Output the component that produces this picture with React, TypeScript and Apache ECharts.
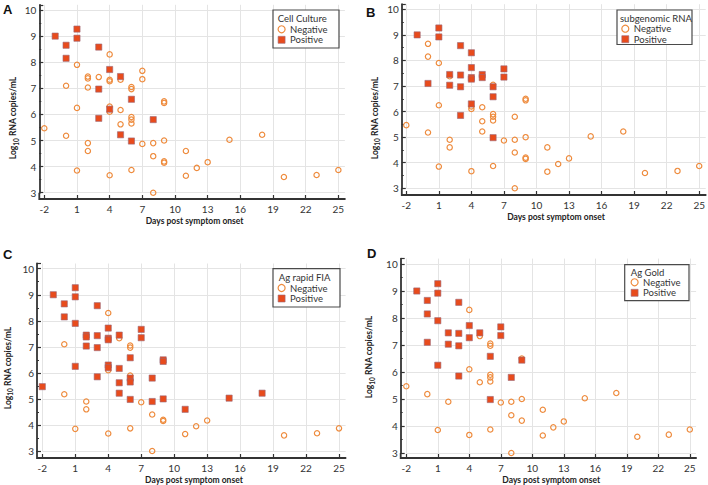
import React, { useEffect, useRef } from "react";
import * as echarts from "echarts";

// Master list of samples (days post symptom onset, log10 RNA copies/mL)
const days = [-2, -1, 0, 0, 0, 0, 1, 1, 1, 1, 1, 2, 2, 2, 2, 2, 3, 3, 3, 3, 4, 4, 4, 4, 4, 4, 4, 4, 5, 5, 5, 5, 5, 6, 6, 6, 6, 6, 6, 6, 6, 7, 7, 7, 8, 8, 8, 8, 9, 9, 9, 9, 9, 11, 11, 12, 13, 15, 18, 20, 23, 25];
const rna = [5.47, 9.0, 8.65, 8.15, 7.1, 5.18, 9.27, 8.92, 7.9, 6.25, 3.85, 7.45, 7.38, 7.03, 4.9, 4.6, 8.58, 7.43, 6.97, 5.85, 8.3, 7.72, 7.33, 7.27, 6.3, 6.2, 6.1, 3.67, 7.45, 7.33, 6.17, 5.62, 5.22, 7.05, 6.97, 6.58, 5.9, 5.8, 5.65, 4.98, 3.87, 7.67, 7.35, 4.87, 5.8, 4.9, 4.4, 3.0, 6.5, 6.44, 5.0, 4.2, 4.15, 4.6, 3.65, 3.95, 4.17, 5.03, 5.22, 3.6, 3.68, 3.87];

// 1 = Positive, 0 = Negative, null = not tested
const cellCulture = [0, 1, 1, 1, 0, 0, 1, 1, 0, 0, 0, 0, 0, 0, 0, 0, 1, 0, 1, 1, 0, 1, 0, 0, 0, 1, 0, 0, 1, 0, 0, 0, 1, 0, 0, 1, 0, 0, 0, 1, 0, 0, 0, 0, 1, 0, 0, 0, 0, 0, 0, 0, 0, 0, 0, 0, 0, 0, 0, 0, 0, 0];
const subgenomicRna = [0, 1, 0, 0, 1, 0, 1, 1, 0, 0, 0, 1, 0, 1, 0, 0, 1, 1, 1, 1, 1, 1, 1, 1, 1, 0, 0, 0, 1, 1, 0, 0, 0, 0, 1, 1, 0, 0, 0, 1, 0, 1, 1, 0, 0, 0, 0, 0, 0, 0, 0, 0, 0, 0, 0, 0, 0, 0, 0, 0, 0, 0];
const agRapidFia = [1, 1, 1, 1, 0, 0, 1, 1, 1, 1, 0, 1, 1, 1, 0, 0, 1, 1, 1, 1, 0, 1, 1, 1, 1, 1, 0, 0, 1, 0, 1, 1, 1, 0, 0, 1, 0, 1, 1, 1, 0, 1, 1, 0, 1, 1, 0, 0, 1, 1, 1, 0, 0, 1, 0, 0, 0, 1, 1, 0, 0, 0];
const agGold = [0, 1, 1, 1, 1, 0, 1, 1, 1, 1, 0, 1, null, 1, 0, null, 1, 1, 1, 1, 0, 1, null, 1, null, null, 0, 0, 1, 0, null, 0, null, 0, 0, 1, 0, 0, 0, 1, 0, 1, 1, 0, 1, 0, 0, 0, 0, 1, 0, 0, null, 0, 0, 0, 0, 0, 0, 0, 0, 0];

const panelLetters = ["A", "B", "C", "D"];
const legendTitles = ["Cell Culture", "subgenomic RNA", "Ag rapid FIA", "Ag Gold"];
const panelStatus = [cellCulture, subgenomicRna, agRapidFia, agGold];
const seriesNames = ["Negative", "Positive"];
const xTickInterval = 3;
const xMin = -2;
const xMax = 25.6;
const yMin = 3;
const yMax = 10.2;
const yAxisTitle = "Log";
const yAxisSub = "10";
const yAxisTitleRest = " RNA copies/mL";
const xAxisTitle = "Days post symptom onset";

// layout (pixels)
const grids = [
  { left: 44.3, top: 4.8, width: 300.6, height: 187.9, yOff: 5, xOff: 6.3 },
  { left: 406.3, top: 4.2, width: 300, height: 184.1, yOff: 4.5, xOff: 6.7 },
  { left: 42.3, top: 263.5, width: 303.3, height: 187.5, yOff: 5.3, xOff: 7 },
  { left: 406.3, top: 258.6, width: 289.8, height: 194.4, yOff: 5.6, xOff: 5 },
];
const legendBoxes = [
  { x: 273, y: 10, w: 66, h: 38, titleX: 277.7, titleY: 18.3, itemX: 277.5, itemY: 24.3 },
  { x: 617, y: 10, w: 75, h: 34.5, titleX: 620, titleY: 18.3, itemX: 621.2, itemY: 23.7 },
  { x: 273, y: 268.7, w: 67, h: 38.3, titleX: 278.7, titleY: 277.7, itemX: 277.5, itemY: 283 },
  { x: 624.7, y: 264.7, w: 64.3, h: 36, titleX: 630.7, titleY: 272.7, itemX: 630.5, itemY: 277.3 },
];
const yTitlePos = [
  { x: 13, y: 118 },
  { x: 374.7, y: 118 },
  { x: 7.5, y: 368 },
  { x: 369, y: 357 },
];
const letterPos = [
  { x: 3, y: 3 },
  { x: 366, y: 6 },
  { x: 3, y: 248 },
  { x: 367, y: 247 },
];

const NEG_COLOR = "#EE8B3D";
const POS_COLOR = "#E84B1C";
const POS_BORDER = "#9A6878";
const AXIS_COLOR = "#333333";
const FONT = "Lato, 'Open Sans', sans-serif";

export default function App() {
  const ref = useRef<HTMLDivElement>(null);
  useEffect(() => {
    if (!ref.current) return;
    const chart = echarts.init(ref.current, undefined, { renderer: "svg" });

    const gridOpt = grids.map((g) => ({ left: g.left, top: g.top, width: g.width, height: g.height, containLabel: false }));
    const xAxes = grids.map((g, i) => ({
      type: "value",
      gridIndex: i,
      min: xMin,
      max: xMax,
      interval: xTickInterval,
      offset: g.xOff,
      name: xAxisTitle,
      nameLocation: "middle",
      nameGap: 17,
      nameTextStyle: { fontFamily: FONT, fontWeight: "bold", fontSize: 8.5, color: "#222" },
      axisLine: { show: true, onZero: false, lineStyle: { color: AXIS_COLOR, width: 1.8 } },
      axisTick: { show: true, inside: true, length: 4, lineStyle: { color: AXIS_COLOR, width: 1.2 } },
      axisLabel: { margin: 5, fontFamily: FONT, fontSize: 10, color: "#333", showMaxLabel: false },
      splitLine: { show: true, showMaxLine: false, lineStyle: { color: "#e4e4e4", width: 1 } },
    }));
    const yAxes = grids.map((g, i) => ({
      type: "value",
      gridIndex: i,
      min: yMin,
      max: yMax,
      interval: 1,
      offset: g.yOff,
      axisLine: { show: true, onZero: false, lineStyle: { color: AXIS_COLOR, width: 1.8 } },
      axisTick: { show: true, inside: true, length: 4, lineStyle: { color: AXIS_COLOR, width: 1.2 } },
      minorTick: { show: true, splitNumber: 2, length: 2, lineStyle: { color: AXIS_COLOR, width: 1 } },
      axisLabel: { margin: 3, fontFamily: FONT, fontSize: 10, color: "#333", showMaxLabel: false },
      splitLine: { show: true, showMaxLine: false, lineStyle: { color: "#e4e4e4", width: 1 } },
    }));

    const series: any[] = [];
    panelStatus.forEach((status, p) => {
      [0, 1].forEach((flag) => {
        const data: number[][] = [];
        days.forEach((d, k) => {
          if (status[k] === flag) data.push([d, rna[k]]);
        });
        series.push({
          type: "scatter",
          name: seriesNames[flag],
          xAxisIndex: p,
          yAxisIndex: p,
          data,
          symbol: flag ? "rect" : "circle",
          symbolSize: flag ? 6.2 : 5.3,
          z: flag ? 3 : 2,
          clip: false,
          itemStyle: flag
            ? { color: POS_COLOR, borderColor: POS_BORDER, borderWidth: 0.6, opacity: 1 }
            : { color: "rgba(255,255,255,0)", borderColor: NEG_COLOR, borderWidth: 1.2, opacity: 1 },
        });
      });
    });

    const legends = legendBoxes.map((b) => ({
      orient: "vertical",
      left: b.itemX,
      top: b.itemY,
      padding: 0,
      itemGap: 0.5,
      itemWidth: 7,
      itemHeight: 7,
      z: 50,
      selectedMode: false,
      textStyle: { fontFamily: FONT, fontSize: 9.5, color: "#333", lineHeight: 10 },
      data: [
        { name: "Negative", icon: "circle", itemStyle: { color: "#fff", borderColor: NEG_COLOR, borderWidth: 1.2 } },
        { name: "Positive", icon: "rect", itemStyle: { color: POS_COLOR, borderColor: POS_BORDER, borderWidth: 0.6 } },
      ],
    }));

    const graphics: any[] = [];
    grids.forEach((g, i) => {
      const ax = g.left - g.yOff;
      const bottom = g.top + g.height;
      const ay = bottom + g.xOff;
      graphics.push({
        type: "polyline",
        silent: true,
        shape: { points: [[ax, bottom], [ax, ay], [g.left, ay]] },
        style: { stroke: AXIS_COLOR, lineWidth: 1.8, fill: null },
      });
      const b = legendBoxes[i];
      graphics.push({
        type: "rect",
        silent: true,
        shape: { x: b.x, y: b.y, width: b.w, height: b.h },
        style: { fill: "#fff", stroke: "#4a4a4a", lineWidth: 1.2 },
        z: 5,
      });
      graphics.push({
        type: "text",
        silent: true,
        x: b.titleX,
        y: b.titleY,
        z: 6,
        style: { text: legendTitles[i], fontFamily: FONT, fontSize: 9.5, fill: "#333", verticalAlign: "middle", align: "left" },
      });
      const t = yTitlePos[i];
      graphics.push({
        type: "text",
        silent: true,
        x: t.x,
        y: t.y,
        rotation: Math.PI / 2,
        style: {
          text: `{a|${yAxisTitle}}{b|${yAxisSub}}{a|${yAxisTitleRest}}`,
          align: "center",
          verticalAlign: "middle",
          rich: {
            a: { fontFamily: FONT, fontWeight: "bold", fontSize: 8.5, fill: "#222", lineHeight: 13, verticalAlign: "middle" },
            b: { fontFamily: FONT, fontWeight: "bold", fontSize: 6.5, fill: "#222", lineHeight: 13, verticalAlign: "bottom", padding: [5, 0, 0, 0] },
          },
        },
      });
      const l = letterPos[i];
      graphics.push({
        type: "text",
        silent: true,
        x: l.x,
        y: l.y,
        style: { text: panelLetters[i], fontFamily: "'Liberation Sans', Arial, sans-serif", fontWeight: "bold", fontSize: 13, fill: "#111" },
      });
    });

    chart.setOption({
      animation: false,
      backgroundColor: "#fff",
      grid: gridOpt,
      xAxis: xAxes,
      yAxis: yAxes,
      legend: legends,
      series,
      graphic: { elements: graphics },
    });
    return () => chart.dispose();
  }, []);
  return <div ref={ref} style={{ position: "absolute", left: 0, top: 0, width: 708, height: 485 }} />;
}
